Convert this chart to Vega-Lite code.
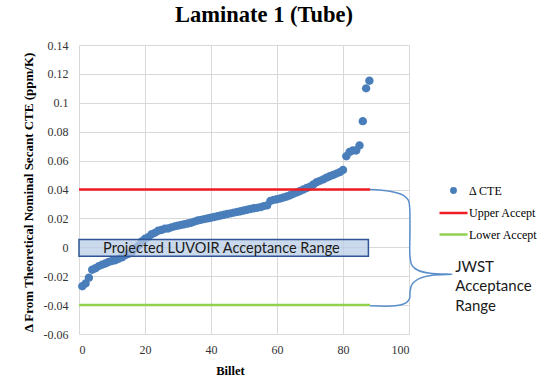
{
  "$schema": "https://vega.github.io/schema/vega-lite/v6.json",
  "autosize": {"type": "none"},
  "width": 330,
  "height": 289,
  "padding": {"left": 79, "top": 45, "right": 147, "bottom": 43},
  "background": "white",
  "config": {"view": {"stroke": null}},
  "title": {"text": "Laminate 1 (Tube)", "font": "Liberation Serif", "fontSize": 22.5, "fontWeight": "bold", "color": "#000", "anchor": "middle", "dx": 20, "offset": 13},
  "datasets": {
    "pts": [
      {"x":1,"y":-0.027},{"x":2,"y":-0.025},{"x":3,"y":-0.021},{"x":4,"y":-0.0155},{"x":5,"y":-0.0145},
      {"x":6,"y":-0.013},{"x":7,"y":-0.012},{"x":8,"y":-0.0112},{"x":9,"y":-0.0102},{"x":10,"y":-0.0095},
      {"x":11,"y":-0.009},{"x":12,"y":-0.008},{"x":13,"y":-0.007},{"x":14,"y":-0.0055},{"x":15,"y":-0.0045},
      {"x":16,"y":-0.0035},{"x":17,"y":-0.001},{"x":18,"y":0.001},{"x":19,"y":0.004},{"x":20,"y":0.006},
      {"x":21,"y":0.007},{"x":22,"y":0.009},{"x":23,"y":0.010},{"x":24,"y":0.0115},{"x":25,"y":0.012},
      {"x":26,"y":0.0128},{"x":27,"y":0.013},{"x":28,"y":0.0138},{"x":29,"y":0.0145},{"x":30,"y":0.015},
      {"x":31,"y":0.0155},{"x":32,"y":0.016},{"x":33,"y":0.0165},{"x":34,"y":0.017},{"x":35,"y":0.0178},
      {"x":36,"y":0.0185},{"x":37,"y":0.019},{"x":38,"y":0.0195},{"x":39,"y":0.020},{"x":40,"y":0.0205},
      {"x":41,"y":0.021},{"x":42,"y":0.0215},{"x":43,"y":0.022},{"x":44,"y":0.0225},{"x":45,"y":0.023},
      {"x":46,"y":0.0235},{"x":47,"y":0.024},{"x":48,"y":0.0245},{"x":49,"y":0.025},{"x":50,"y":0.0255},
      {"x":51,"y":0.026},{"x":52,"y":0.0265},{"x":53,"y":0.027},{"x":54,"y":0.0273},{"x":55,"y":0.0278},
      {"x":56,"y":0.0285},{"x":57,"y":0.029},{"x":58,"y":0.032},{"x":59,"y":0.0328},{"x":60,"y":0.0333},
      {"x":61,"y":0.0338},{"x":62,"y":0.0345},{"x":63,"y":0.0352},{"x":64,"y":0.036},{"x":65,"y":0.037},
      {"x":66,"y":0.038},{"x":67,"y":0.039},{"x":68,"y":0.040},{"x":69,"y":0.041},{"x":70,"y":0.042},
      {"x":71,"y":0.0435},{"x":72,"y":0.045},{"x":73,"y":0.046},{"x":74,"y":0.047},{"x":75,"y":0.0482},
      {"x":76,"y":0.0492},{"x":77,"y":0.050},{"x":78,"y":0.051},{"x":79,"y":0.052},{"x":80,"y":0.0535},
      {"x":81,"y":0.063},{"x":82,"y":0.066},{"x":83,"y":0.067},{"x":84,"y":0.067},{"x":85,"y":0.0705},
      {"x":86,"y":0.0873},{"x":87,"y":0.110},{"x":88,"y":0.1153}
    ],
    "brace": [
      {"i":1,"x":88.2,"y":0.0400},{"i":2,"x":94.2,"y":0.0388},{"i":3,"x":98.3,"y":0.0360},{"i":4,"x":99.8,"y":0.0326},
      {"i":5,"x":100.2,"y":0.0277},{"i":6,"x":100.3,"y":0.0118},{"i":7,"x":100.3,"y":-0.0062},{"i":8,"x":100.9,"y":-0.0125},
      {"i":9,"x":102.7,"y":-0.0159},{"i":10,"x":106.4,"y":-0.0180},{"i":11,"x":113.0,"y":-0.0187},{"i":12,"x":107.0,"y":-0.0194},
      {"i":13,"x":103.3,"y":-0.0215},{"i":14,"x":100.9,"y":-0.0256},{"i":15,"x":100.3,"y":-0.0313},{"i":16,"x":100.2,"y":-0.0353},
      {"i":17,"x":99.3,"y":-0.0381},{"i":18,"x":96.4,"y":-0.0403},{"i":19,"x":88.2,"y":-0.0405}
    ]
  },
  "encoding": {
    "x": {"field": "x", "type": "quantitative",
      "scale": {"domain": [0, 100], "nice": false, "zero": false},
      "axis": {"title": "Billet", "values": [0,20,40,60,80,100], "domain": false, "ticks": false,
        "grid": true, "gridColor": "#d9d9d9", "gridWidth": 1,
        "labelFont": "Liberation Serif", "labelFontSize": 12, "labelColor": "#333", "labelPadding": 10,
        "titleFont": "Liberation Serif", "titleFontSize": 12.5, "titleFontWeight": "bold", "titleColor": "#000",
        "titlePadding": 9, "titleX": 151}},
    "y": {"field": "y", "type": "quantitative",
      "scale": {"domain": [-0.06, 0.14], "nice": false, "zero": false},
      "axis": {"title": "Δ From Theoretical Nominal Secant CTE (ppm/K)",
        "values": [-0.06,-0.04,-0.02,0,0.02,0.04,0.06,0.08,0.1,0.12,0.14],
        "labelExpr": "datum.value == 0 ? '0' : toString(round(datum.value*100)/100)",
        "domain": false, "ticks": false, "grid": true, "gridColor": "#d9d9d9", "gridWidth": 1,
        "labelFont": "Liberation Serif", "labelFontSize": 12, "labelColor": "#333", "labelPadding": 11,
        "titleFont": "Liberation Serif", "titleFontSize": 13, "titleFontWeight": "bold", "titleColor": "#000",
        "titleX": -51, "titleY": 147, "titleAngle": -90, "titleAlign": "center", "titleBaseline": "middle"}}
  },
  "layer": [
    {
      "data": {"name": "pts"},
      "transform": [{"calculate": "'Δ CTE'", "as": "series"}],
      "mark": {"type": "point", "filled": true, "size": 1460, "strokeWidth": 0, "opacity": 1},
      "encoding": {
        "fill": {"field": "series", "type": "nominal",
          "scale": {"domain": ["Δ CTE", "Upper Accept", "Lower Accept"], "range": ["#4a7ebb", "#ee1c25", "#92d050"]},
          "legend": {"orient": "none", "legendX": 363, "legendY": 134, "title": null,
            "labelFont": "Liberation Serif", "labelFontSize": 12, "labelColor": "#000",
            "symbolSize": 400, "symbolStrokeWidth": 2.5, "labelOffset": 4, "rowPadding": 3.5}},
        "stroke": {"field": "series", "type": "nominal",
          "scale": {"domain": ["Δ CTE", "Upper Accept", "Lower Accept"], "range": ["#4a7ebb", "#ee1c25", "#92d050"]},
          "legend": {"orient": "none", "legendX": 363, "legendY": 134, "title": null,
            "labelFont": "Liberation Serif", "labelFontSize": 12, "labelColor": "#000",
            "symbolSize": 400, "symbolStrokeWidth": 2.5, "labelOffset": 4, "rowPadding": 3.5}},
        "shape": {"field": "series", "type": "nominal",
          "scale": {"domain": ["Δ CTE", "Upper Accept", "Lower Accept"],
            "range": ["M0.22,0A0.22,0.22,0,1,1,-0.22,0A0.22,0.22,0,1,1,0.22,0Z", "M-1.4,0H1.4", "M-1.4,0H1.4"]},
          "legend": {"orient": "none", "legendX": 363, "legendY": 134, "title": null,
            "labelFont": "Liberation Serif", "labelFontSize": 12, "labelColor": "#000",
            "symbolSize": 400, "symbolStrokeWidth": 2.5, "labelOffset": 4, "rowPadding": 3.5}}
      }
    },
    {
      "data": {"values": [{"x": 0, "x2": 88.2, "y": 0.04}]},
      "mark": {"type": "rule", "color": "#ee1c25", "strokeWidth": 2.5},
      "encoding": {"x2": {"field": "x2"}}
    },
    {
      "data": {"values": [{"x": 0, "x2": 88.2, "y": -0.04}]},
      "mark": {"type": "rule", "color": "#92d050", "strokeWidth": 2.5},
      "encoding": {"x2": {"field": "x2"}}
    },
    {
      "data": {"values": [{"x": 0, "x2": 87.7, "y": -0.0062, "y2": 0.0054}]},
      "mark": {"type": "rect", "fill": "#b9cce6", "fillOpacity": 0.75, "stroke": "#2f5597", "strokeWidth": 1.5},
      "encoding": {"x2": {"field": "x2"}, "y2": {"field": "y2"}}
    },
    {
      "data": {"values": [{"x": 7.3, "y": -0.0012, "label": "Projected LUVOIR Acceptance Range"}]},
      "mark": {"type": "text", "align": "left", "baseline": "middle", "font": "Lato", "fontSize": 14.5, "color": "#1a1a1a"},
      "encoding": {"text": {"field": "label"}}
    },
    {
      "data": {"name": "brace"},
      "mark": {"type": "line", "interpolate": "catmull-rom", "color": "#5b8fcc", "strokeWidth": 1.5, "clip": false},
      "encoding": {"order": {"field": "i", "type": "quantitative"}}
    },
    {
      "data": {"values": [{"x": 114, "y": -0.0136, "label": "JWST\nAcceptance\nRange"}]},
      "mark": {"type": "text", "align": "left", "baseline": "middle", "font": "Lato", "fontSize": 15, "color": "#1a1a1a", "lineBreak": "\n", "lineHeight": 19.5},
      "encoding": {"text": {"field": "label"}}
    }
  ]
}
